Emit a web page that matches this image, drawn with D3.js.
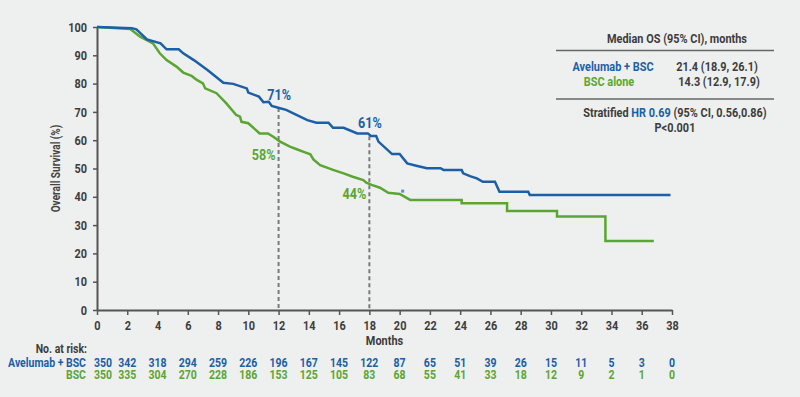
<!DOCTYPE html>
<html>
<head>
<meta charset="utf-8">
<script src="https://cdn.jsdelivr.net/npm/d3@7"></script>
<style>
  html, body { margin: 0; padding: 0; background: #eeefef; }
  svg { display: block; font-family: Roboto, "Noto Sans", sans-serif; font-weight: bold; }
</style>
</head>
<body>
<div id="chart"></div>
<script>
// Kaplan-Meier curves: [month, survival %]
const avelumab = [[0,100],[2.3,99.6],[2.6,99.2],[3.3,95.6],[4.2,94.2],[4.6,92.1],[5.4,92.1],[5.7,90.7],
  [6.4,88.3],[7.3,84.8],[8.35,80.3],[9.0,79.9],[9.9,78.3],[10.0,76.8],[10.7,75.4],[11.0,73.4],[11.35,73.6],
  [11.55,72.1],[12.1,71.3],[12.5,70.7],[13.9,67.1],[14.5,66.2],[15.3,66.2],[15.6,64.4],[16.3,64.4],
  [17.2,62.4],[17.9,62.4],[18.1,61.5],[18.45,61.5],[18.6,59.5],[19.5,55.1],[20.0,55.1],[20.5,51.8],
  [21.1,51.0],[21.8,50.1],[22.7,50.1],[22.9,49.5],[24.1,49.5],[24.2,48.3],[24.65,47.3],[25.1,46.5],
  [25.5,45.3],[26.3,45.3],[26.6,41.8],[28.5,41.8],[28.6,40.6],[37.9,40.6]];
const bsc = [[0,100],[2.2,99.3],[2.85,96.6],[3.7,94.2],[4.15,90.7],[4.6,88.3],[5.25,86.0],[5.7,83.9],
  [6.25,82.7],[6.6,81.3],[7.0,80.1],[7.15,78.3],[7.9,76.6],[8.55,73.0],[9.2,68.9],[9.45,68.3],[9.55,66.5],
  [10.0,66.0],[10.75,62.4],[11.3,62.4],[11.65,61.2],[12.1,59.5],[12.75,57.7],[13.2,56.8],[13.75,55.7],
  [14.1,55.0],[14.3,53.2],[14.75,51.2],[15.6,49.5],[16.3,48.3],[16.9,47.1],[17.6,45.9],[17.8,45.0],
  [18.15,44.2],[18.7,43.2],[19.25,41.4],[20.0,41.0],[20.7,38.9],[24.1,38.9],[24.1,37.7],[27.1,37.7],
  [27.1,35.0],[30.4,35.0],[30.4,33.0],[33.6,33.0],[33.6,24.4],[36.8,24.4]];
const censorMark = [[20.2, 42.0]];

// Landmark estimates
const landmarkMonths = [12, 18];
const landmarkAve = [71, 61];
const landmarkBsc = [58, 44];

// Number at risk
const riskMonths = d3.range(0, 39, 2);
const riskAvelumab = [350,342,318,294,259,226,196,167,145,122,87,65,51,39,26,15,11,5,3,0];
const riskBsc = [350,335,304,270,228,186,153,125,105,83,68,55,41,33,18,12,9,2,1,0];

const yTicks = d3.range(0, 101, 10);
const xTicks = d3.range(0, 39, 2);

const blue = "#1b5fa8", green = "#5ba632", grey = "#3d3d3d";
const K = 0.84; // horizontal squeeze to mimic a condensed face

// squeeze text horizontally while keeping its anchor point in place
function condense(sel) {
  sel.each(function () {
    const t = d3.select(this);
    const x = +t.attr("x") || 0;
    t.attr("x", x / K).attr("transform", "scale(" + K + ",1)");
  });
}

function drawChart() {
  const width = 800, height = 397;
  const x = d3.scaleLinear().domain([0, 38]).range([97, 672]);
  const y = d3.scaleLinear().domain([0, 100]).range([310, 27]);

  const svg = d3.select("#chart").append("svg")
    .attr("width", width)
    .attr("height", height);

  // Axes
  const xAxis = svg.append("g")
    .attr("transform", "translate(0,310)")
    .call(d3.axisBottom(x).tickValues(xTicks).tickSize(5).tickPadding(6).tickSizeOuter(0));
  const yAxis = svg.append("g")
    .attr("transform", "translate(97,0)")
    .call(d3.axisLeft(y).tickValues(yTicks).tickSize(4).tickPadding(6).tickSizeOuter(0));
  [xAxis, yAxis].forEach(a => {
    a.select(".domain").attr("stroke", "#555").attr("stroke-width", 2);
    a.selectAll(".tick line").attr("stroke", "#555").attr("stroke-width", 1.5);
    a.selectAll("text").attr("fill", grey).style("font-size", "13px").style("font-weight", "bold")
      .style("font-family", "Roboto, sans-serif");
    condense(a.selectAll("text"));
  });

  svg.append("text")
    .attr("transform", "translate(60," + y(50) + ") rotate(-90) scale(" + K + ",1)")
    .attr("text-anchor", "middle")
    .attr("fill", "#444")
    .style("font-size", "12px")
    .text("Overall Survival (%)");

  svg.append("text")
    .attr("x", x(19)).attr("y", 345)
    .attr("text-anchor", "middle")
    .attr("fill", grey)
    .style("font-size", "13px")
    .text("Months")
    .call(condense);

  // Dashed landmark lines, from the avelumab curve down to the axis
  svg.selectAll(".landmark")
    .data(landmarkMonths)
    .enter().append("line")
    .attr("x1", d => x(d)).attr("x2", d => x(d))
    .attr("y1", (d, i) => y(landmarkAve[i]) - 1).attr("y2", y(0))
    .attr("stroke", "#7a7a7a")
    .attr("stroke-width", 2)
    .attr("stroke-dasharray", "4,3");

  // Curves
  const line = d3.line().x(d => x(d[0])).y(d => y(d[1]));
  svg.append("path").datum(bsc)
    .attr("d", line).attr("fill", "none")
    .attr("stroke", green).attr("stroke-width", 2.5);
  svg.append("path").datum(avelumab)
    .attr("d", line).attr("fill", "none")
    .attr("stroke", blue).attr("stroke-width", 2.5);

  svg.selectAll(".censor")
    .data(censorMark)
    .enter().append("rect")
    .attr("x", d => x(d[0]) - 1.5).attr("y", d => y(d[1]) - 1.5)
    .attr("width", 3).attr("height", 3)
    .attr("fill", "#4a90e2");

  // Landmark labels
  svg.selectAll(".aveLabel")
    .data(landmarkAve)
    .enter().append("text")
    .attr("x", (d, i) => x(landmarkMonths[i]) + 0.5).attr("y", d => y(d) - 9.5)
    .attr("text-anchor", "middle")
    .attr("fill", blue)
    .style("font-size", "15px")
    .text(d => d + "%")
    .call(condense);
  svg.selectAll(".bscLabel")
    .data(landmarkBsc)
    .enter().append("text")
    .attr("x", (d, i) => x(landmarkMonths[i]) - 15).attr("y", d => y(d) + 14)
    .attr("text-anchor", "middle")
    .attr("fill", green)
    .style("font-size", "15px")
    .text(d => d + "%")
    .call(condense);

  // Median OS box
  const box = svg.append("g").style("font-size", "13px");
  box.append("text").attr("x", 677).attr("y", 43).attr("text-anchor", "middle").attr("fill", grey)
    .text("Median OS (95% CI), months");
  box.append("line").attr("x1", 556).attr("x2", 774).attr("y1", 50.5).attr("y2", 50.5)
    .attr("stroke", "#666").attr("stroke-width", 1.5);
  box.append("text").attr("x", 613).attr("y", 71.5).attr("text-anchor", "middle").attr("fill", blue)
    .text("Avelumab + BSC");
  box.append("text").attr("x", 717).attr("y", 71.5).attr("text-anchor", "middle").attr("fill", grey)
    .text("21.4 (18.9, 26.1)");
  box.append("text").attr("x", 609).attr("y", 86).attr("text-anchor", "middle").attr("fill", green)
    .text("BSC alone");
  box.append("text").attr("x", 719).attr("y", 86).attr("text-anchor", "middle").attr("fill", grey)
    .text("14.3 (12.9, 17.9)");
  box.append("line").attr("x1", 556).attr("x2", 774).attr("y1", 99).attr("y2", 99)
    .attr("stroke", "#666").attr("stroke-width", 1.5);
  const hr = box.append("text").attr("x", 675).attr("y", 117.5).attr("text-anchor", "middle").attr("fill", grey);
  hr.append("tspan").text("Stratified ");
  hr.append("tspan").attr("fill", blue).text("HR 0.69");
  hr.append("tspan").text(" (95% CI, 0.56,0.86)");
  box.append("text").attr("x", 675).attr("y", 132).attr("text-anchor", "middle").attr("fill", grey)
    .text("P<0.001");
  condense(box.selectAll("text"));

  // Number at risk table (first column nudged right, clear of the row labels)
  const riskX = (d, i) => x(riskMonths[i]) + (i === 0 ? 6 : 0);
  const risk = svg.append("g").style("font-size", "12.5px");
  risk.append("text").attr("x", 87).attr("y", 353.5).attr("text-anchor", "end").attr("fill", grey)
    .text("No. at risk:");
  risk.append("text").attr("x", 86).attr("y", 367).attr("text-anchor", "end").attr("fill", blue)
    .text("Avelumab + BSC");
  risk.append("text").attr("x", 86).attr("y", 379.5).attr("text-anchor", "end").attr("fill", green)
    .text("BSC");
  risk.selectAll(".riskA")
    .data(riskAvelumab)
    .enter().append("text")
    .attr("x", riskX).attr("y", 367)
    .attr("text-anchor", "middle").attr("fill", blue)
    .text(d => d);
  risk.selectAll(".riskB")
    .data(riskBsc)
    .enter().append("text")
    .attr("x", riskX).attr("y", 379.5)
    .attr("text-anchor", "middle").attr("fill", green)
    .text(d => d);
  condense(risk.selectAll("text"));
}

drawChart();
</script>
</body>
</html>
